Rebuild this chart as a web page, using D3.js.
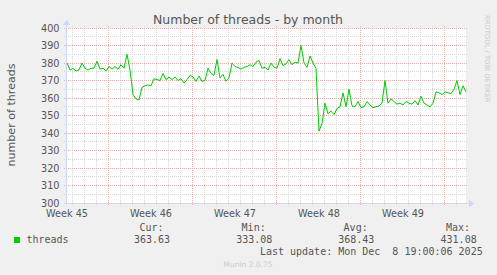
<!DOCTYPE html>
<html><head><meta charset="utf-8">
<script src="https://cdn.jsdelivr.net/npm/d3@7"></script>
<style>
body{margin:0;background:#f0f0f0;}
svg{display:block;}
</style>
</head><body>
<svg id="chart" width="497" height="275"></svg>
<script>
// ---------- data ----------
const chartTitle = "Number of threads - by month";
const yAxisTitle = "number of threads";
const seriesName = "threads";
const lastUpdateText = "Last update: Mon Dec  8 19:00:06 2025";
const footerText = "Munin 2.0.75";
const watermarkText = "RRDTOOL / TOBI OETIKER";
const endTime = "2025-12-08T19:00:00Z";   // last sample
const spanHours = 800;                     // month view: 400 px x 2 h
const sampleStepHours = 6;
const yTickValues = [300, 310, 320, 330, 340, 350, 360, 370, 380, 390, 400];
const yMinorValues = [305, 315, 325, 335, 345, 355, 365, 375, 385, 395];
const legendHeaders = ["Cur:", "Min:", "Avg:", "Max:"];
const legendValues = ["363.63", "333.08", "368.43", "431.08"];
// thread count, one value every 6 hours, oldest first
const threads = [
 380, 376, 377, 375.5, 376, 380, 377, 376, 377, 377,
 381, 376.5, 377, 375.5, 378, 376.5, 378, 376.5, 379, 377,
 385, 376, 362, 359.5, 359, 366, 367, 367.5, 367, 371,
 370.5, 370, 374, 370.5, 372, 370.5, 372, 370, 371, 368.5,
 370.5, 373, 372, 369.5, 372.5, 369.5, 370, 377, 374, 373,
 382, 371.5, 373.5, 369.5, 371.5, 380, 378, 377.5, 376.5, 377.5,
 378, 379, 378, 380.5, 381.5, 377, 377.5, 376, 380, 377.5,
 377, 382.5, 378.5, 379.5, 382, 379, 380.5, 380, 390, 380,
 377.5, 384, 380, 377, 341, 345.5, 357, 351, 352.5, 350.5,
 354, 355, 363, 355, 365, 355.5, 355, 358, 354.5, 355,
 358, 356, 354.5, 355, 355.5, 357, 370, 357, 359.5, 358,
 356.5, 357, 356, 358, 357, 356.5, 358.5, 356, 361, 357,
 356, 355, 357, 363.5, 363, 362, 363.5, 363, 362.5, 365,
 370, 362, 367, 363.5
];

// ---------- layout ----------
const svg = d3.select("#chart");
const W = 497, H = 275;
const plot = {left: 66, right: 466, top: 28, bottom: 203};
const textCol = "#555";
const axisCol = "#cfd6f8";
const minorCol = "#d6d6d6";
const majorCol = "#efaaaa";
const lineCol = "#00cc00";

svg.append("rect").attr("width", W).attr("height", H).attr("fill", "#f0f0f0");

const end = new Date(endTime);
const start = new Date(+end - spanHours * 3600e3);
const x = d3.scaleUtc().domain([start, end]).range([plot.left, plot.right]);
const y = d3.scaleLinear().domain([300, 400]).range([plot.bottom, plot.top]);

svg.append("rect")
  .attr("x", plot.left).attr("y", plot.top)
  .attr("width", plot.right - plot.left).attr("height", plot.bottom - plot.top)
  .attr("fill", "#fff");

const px = v => Math.floor(v) + 0.5;
const g = svg.append("g");

// vertical grid: days (minor) and Sundays (major)
const days = d3.utcDay.range(d3.utcDay.ceil(start), end);
const sundays = d3.utcSunday.range(start, end);
const sundaySet = new Set(sundays.map(d => +d));
g.selectAll(".vmin").data(days.filter(d => !sundaySet.has(+d))).join("line")
  .attr("x1", d => px(x(d))).attr("x2", d => px(x(d)))
  .attr("y1", plot.top - 2).attr("y2", plot.bottom + 2)
  .attr("stroke", minorCol).attr("stroke-dasharray", "1,1");
// horizontal minor grid
g.selectAll(".hmin").data(yMinorValues).join("line")
  .attr("x1", plot.left - 2).attr("x2", plot.right + 2)
  .attr("y1", d => px(y(d))).attr("y2", d => px(y(d)))
  .attr("stroke", minorCol).attr("stroke-dasharray", "1,1");
// major grid
g.selectAll(".vmaj").data(sundays).join("line")
  .attr("x1", d => px(x(d))).attr("x2", d => px(x(d)))
  .attr("y1", plot.top - 2).attr("y2", plot.bottom + 2)
  .attr("stroke", majorCol).attr("stroke-dasharray", "1,1");
g.selectAll(".hmaj").data(yTickValues).join("line")
  .attr("x1", plot.left - 2).attr("x2", plot.right + 2)
  .attr("y1", d => px(y(d))).attr("y2", d => px(y(d)))
  .attr("stroke", majorCol).attr("stroke-dasharray", "1,1");

// y tick labels
svg.selectAll(".ylab").data(yTickValues).join("text")
  .attr("x", 59.5).attr("y", d => y(d) + 3.5)
  .attr("text-anchor", "end")
  .attr("font-family", "DejaVu Sans").attr("font-size", 9.7)
  .attr("fill", textCol).text(d => d);

// x labels: centred on each week (Sunday + 3.5 days)
const weekFmt = d3.utcFormat("%V");
const weekCenters = d3.utcSunday.range(d3.utcDay.offset(start, -7), end)
  .map(d => new Date(+d + 84 * 3600e3))
  .filter(d => d >= d3.utcHour.offset(start, -4) && d <= end);
svg.selectAll(".xlab").data(weekCenters).join("text")
  .attr("x", d => x(d) + 0.5).attr("y", 216.5)
  .attr("text-anchor", "middle")
  .attr("font-family", "DejaVu Sans").attr("font-size", 9.7)
  .attr("fill", textCol).text(d => "Week " + (+weekFmt(d)));

// axes
svg.append("line").attr("x1", plot.left - 2).attr("x2", plot.right + 4)
  .attr("y1", plot.bottom + 0.5).attr("y2", plot.bottom + 0.5).attr("stroke", axisCol);
svg.append("line").attr("x1", plot.left + 0.5).attr("x2", plot.left + 0.5)
  .attr("y1", plot.bottom + 2).attr("y2", plot.top - 4).attr("stroke", axisCol);
svg.append("path")
  .attr("d", `M${plot.right + 3},${plot.bottom - 3.5} L${plot.right + 8},${plot.bottom + 0.5} L${plot.right + 3},${plot.bottom + 4.5} Z`)
  .attr("fill", axisCol);
svg.append("path")
  .attr("d", `M${plot.left - 3.5},${plot.top - 3} L${plot.left + 0.5},${plot.top - 8} L${plot.left + 4.5},${plot.top - 3} Z`)
  .attr("fill", axisCol);

// series line
const samples = threads.map((v, i) => ({
  t: new Date(+end - (threads.length - 1 - i) * sampleStepHours * 3600e3), v
}));
svg.append("path").datum(samples)
  .attr("d", d3.line().x(d => x(d.t)).y(d => y(d.v)))
  .attr("fill", "none").attr("stroke", lineCol).attr("stroke-width", 1);

// title
svg.append("text").attr("x", 248).attr("y", 24)
  .attr("text-anchor", "middle").attr("font-family", "DejaVu Sans")
  .attr("font-size", 12.5).attr("fill", textCol).text(chartTitle);

// y axis title
svg.append("text").attr("transform", "translate(15,115) rotate(-90)")
  .attr("text-anchor", "middle").attr("font-family", "DejaVu Sans")
  .attr("font-size", 11.1).attr("fill", textCol).text(yAxisTitle);

// watermark
svg.append("text").attr("transform", "translate(485,15) rotate(90)")
  .attr("font-family", "DejaVu Sans").attr("font-size", 6.8)
  .attr("fill", "#c8c8c8").text(watermarkText);

// legend
const mono = "DejaVu Sans Mono";
const headerEnds = [163.5, 265.7, 367.7, 470];
const valueEnds = [170, 272.3, 374.3, 476.7];
svg.selectAll(".lh").data(legendHeaders).join("text")
  .attr("x", (d, i) => headerEnds[i]).attr("y", 231)
  .attr("text-anchor", "end").attr("font-family", mono).attr("font-size", 10)
  .attr("fill", textCol).text(d => d);
svg.selectAll(".lv").data(legendValues).join("text")
  .attr("x", (d, i) => valueEnds[i]).attr("y", 243)
  .attr("text-anchor", "end").attr("font-family", mono).attr("font-size", 10)
  .attr("fill", textCol).text(d => d);
svg.append("rect").attr("x", 14).attr("y", 237).attr("width", 6).attr("height", 6)
  .attr("fill", lineCol);
svg.append("text").attr("x", 26.5).attr("y", 243)
  .attr("font-family", mono).attr("font-size", 10)
  .attr("fill", textCol).text(seriesName);
svg.append("text").attr("x", 482.7).attr("y", 255)
  .attr("text-anchor", "end").attr("font-family", mono).attr("font-size", 10)
  .attr("fill", textCol).attr("xml:space", "preserve").style("white-space", "pre")
  .text(lastUpdateText);
svg.append("text").attr("x", 248).attr("y", 266.5)
  .attr("text-anchor", "middle").attr("font-family", "DejaVu Sans").attr("font-size", 7.5)
  .attr("fill", "#cccccc").text(footerText);
</script>
</body></html>
